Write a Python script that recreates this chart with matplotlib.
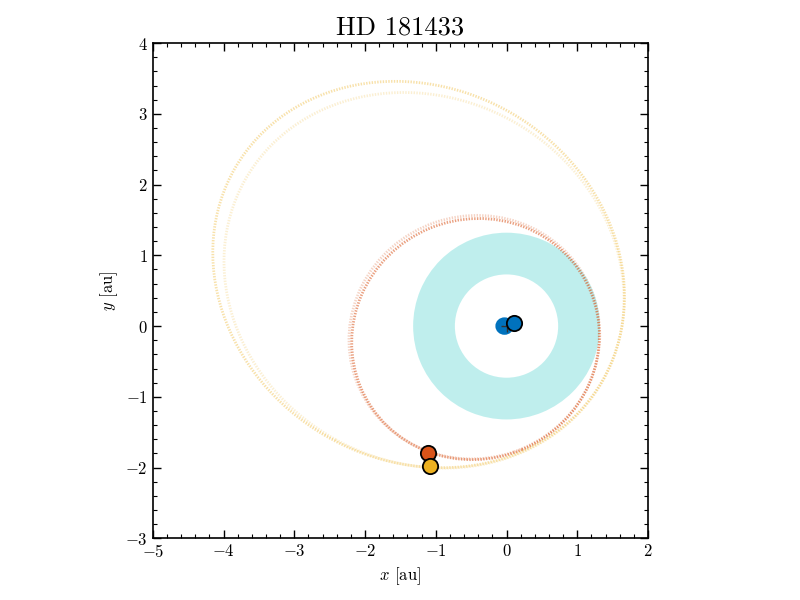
import numpy as np
import matplotlib
matplotlib.use('Agg')
import matplotlib.pyplot as plt
from matplotlib.patches import Ellipse, Annulus
from matplotlib.ticker import MultipleLocator

plt.rcParams['font.family'] = 'serif'
plt.rcParams['font.serif'] = ['cmr10']
plt.rcParams['mathtext.fontset'] = 'cm'
plt.rcParams['axes.formatter.use_mathtext'] = True

# orbit traces: semi-major axis [au], eccentricity, argument of periapsis [deg]
trace_planet = ['b', 'c', 'c', 'd', 'd']
trace_a = [0.07, 1.76, 1.78, 3.00, 2.90]
trace_e = [0.40, 0.27, 0.27, 0.48, 0.46]
trace_w = [0.0, 22.8, 19.0, -30.4, -29.0]
trace_alpha = [1.0, 0.55, 0.25, 0.38, 0.2]

# current planet positions [au]
planet_names = ['b', 'c', 'd']
planet_x = [0.10, -1.11, -1.08]
planet_y = [0.05, -1.80, -1.98]
planet_colors = {'b': '#0072BD', 'c': '#D95319', 'd': '#EDB120'}

# habitable zone [au]
hz_inner = 0.73
hz_outer = 1.32

fig = plt.figure(figsize=(8, 6), dpi=100)
ax = fig.add_axes([0.191, 0.102, 0.619, 0.827])

ax.add_patch(Annulus((0, 0), hz_outer, hz_outer - hz_inner,
                     facecolor='mediumturquoise', alpha=0.35, edgecolor='none', zorder=1))

for p, a, e, w, al in zip(trace_planet, trace_a, trace_e, trace_w, trace_alpha):
    b = a * np.sqrt(1 - e**2)
    wr = np.deg2rad(w)
    cx, cy = -a * e * np.cos(wr), -a * e * np.sin(wr)
    if p == 'b':
        ax.add_patch(Ellipse((cx, cy), 2 * a, 2 * b, angle=w, fill=False,
                             edgecolor=planet_colors[p], linewidth=6, zorder=2))
    else:
        ax.add_patch(Ellipse((cx, cy), 2 * a, 2 * b, angle=w, fill=False,
                             edgecolor=planet_colors[p], linewidth=2,
                             linestyle=(0, (0.5, 0.5)), alpha=al, zorder=2))

ax.plot(0, 0, '+', color='#333333', markersize=9, markeredgewidth=1, zorder=3)

for n, x, y in zip(planet_names, planet_x, planet_y):
    ax.plot(x, y, 'o', color=planet_colors[n], markersize=11,
            markeredgecolor='k', markeredgewidth=1.3, zorder=4)

ax.set_xlim(-5, 2)
ax.set_ylim(-3, 4)
ax.set_aspect('equal')
ax.xaxis.set_major_locator(MultipleLocator(1))
ax.yaxis.set_major_locator(MultipleLocator(1))
ax.xaxis.set_minor_locator(MultipleLocator(0.2))
ax.yaxis.set_minor_locator(MultipleLocator(0.2))
ax.tick_params(which='both', direction='in', top=True, right=True, labelsize=12)
ax.tick_params(which='major', length=6, width=1)
ax.tick_params(which='minor', length=3, width=0.8)
for s in ax.spines.values():
    s.set_linewidth(1.2)

ax.set_xlabel('$x$ [au]', fontsize=12)
ax.set_ylabel('$y$ [au]', fontsize=12)
ax.set_title('HD 181433', fontsize=19)

plt.savefig('out.png', dpi=100)
